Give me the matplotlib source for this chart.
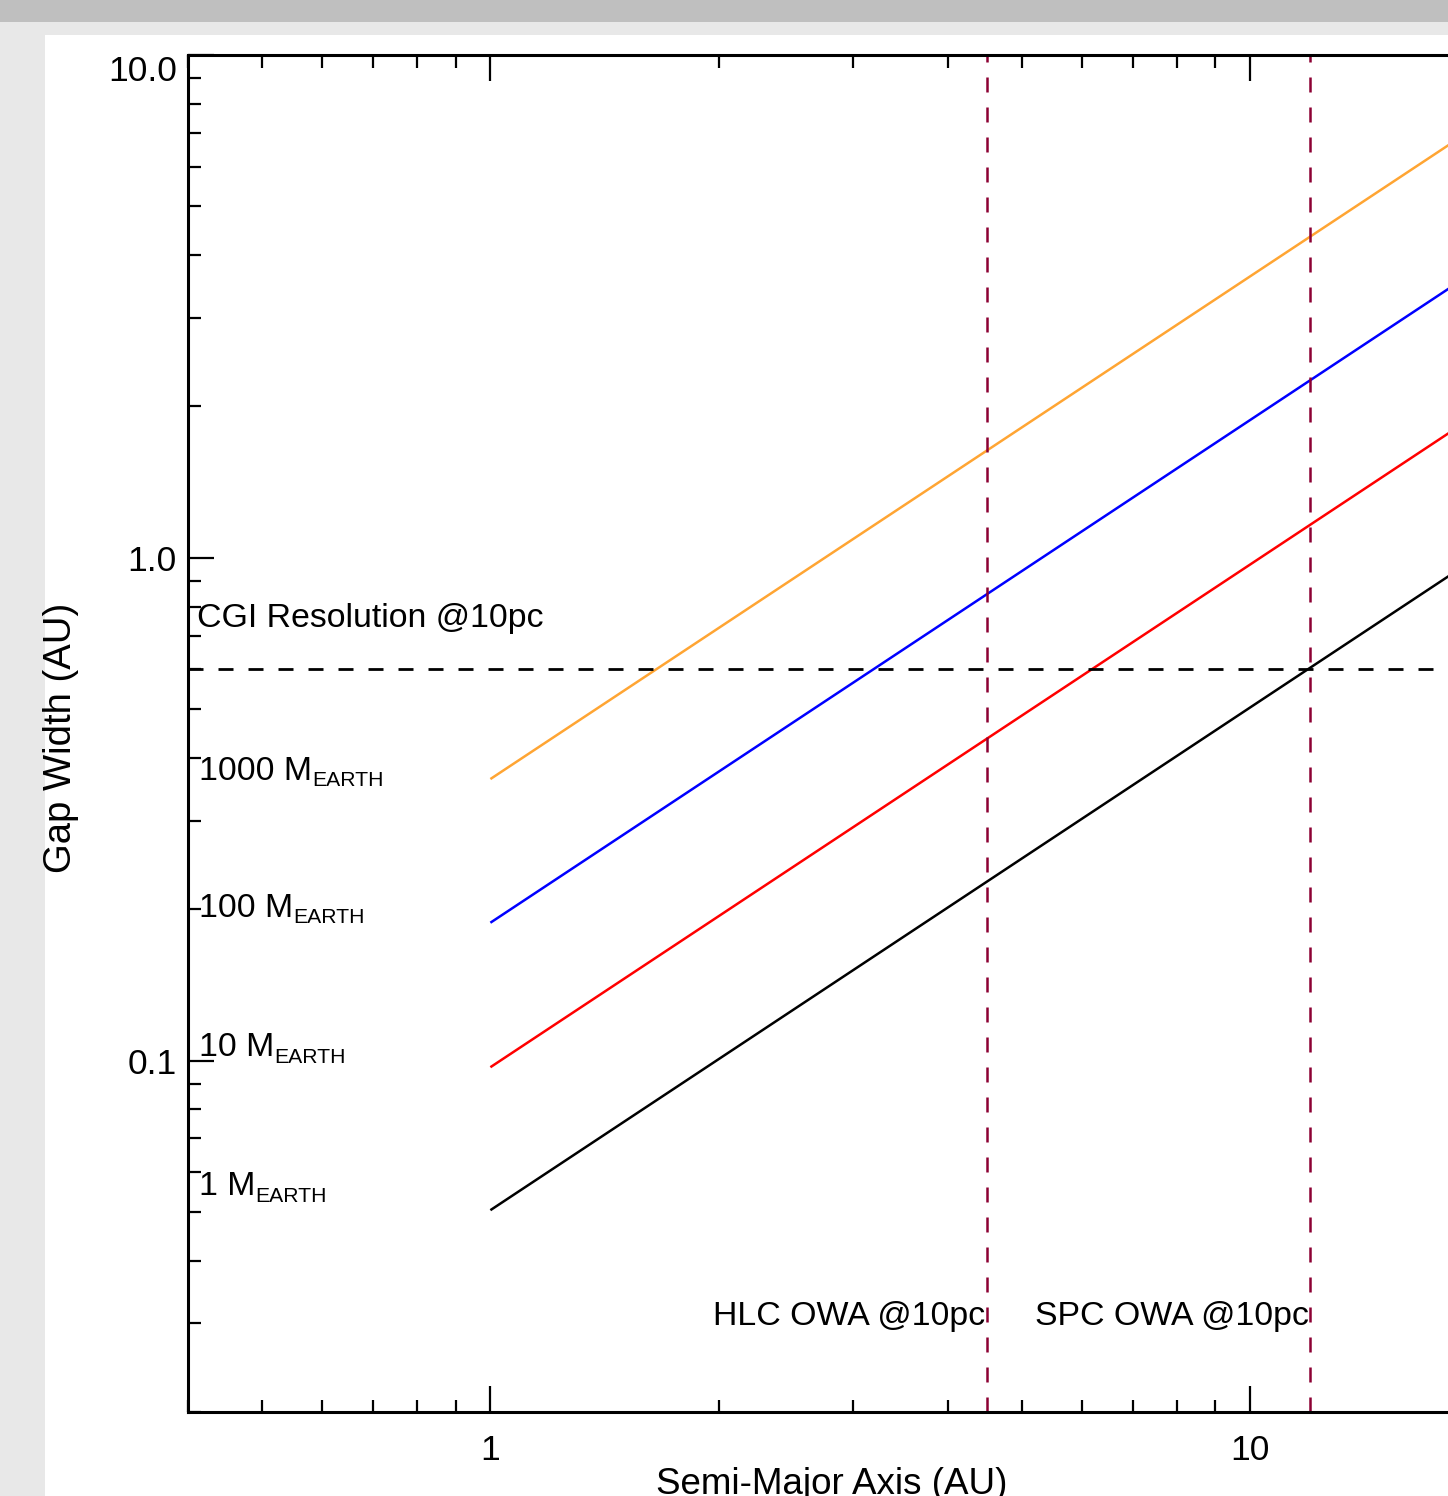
import matplotlib
matplotlib.use('Agg')
import matplotlib.pyplot as plt
from matplotlib.patches import Rectangle
from matplotlib.ticker import FixedLocator, FixedFormatter, LogLocator, NullFormatter

plt.rcParams['font.family'] = ['Liberation Sans', 'DejaVu Sans']

# data
semi_major = [1.0, 20.0]
gap_1me = [0.0504, 1.008]
gap_10me = [0.097, 1.94]
gap_100me = [0.188, 3.76]
gap_1000me = [0.363, 7.26]
line_colors = ['black', '#ff0000', '#0000ff', '#ffa533']

cgi_resolution = 0.6
hlc_owa = 4.5
spc_owa = 12.0

mass_labels = ['1 M', '10 M', '100 M', '1000 M']
mass_label_y = [0.054, 0.102, 0.193, 0.3615]

ytick_vals = [0.1, 1.0, 10.0]
ytick_labels = ['0.1', '1.0', '10.0']
xtick_vals = [1, 10]
xtick_labels = ['1', '10']

W, H = 1448, 1496
fig = plt.figure(figsize=(W / 100, H / 100), dpi=100, facecolor='#e8e8e8')
fig.patches.append(Rectangle((45 / W, 0), 1, 1 - 35 / H, transform=fig.transFigure,
                             facecolor='white', edgecolor='none', zorder=-10))
fig.patches.append(Rectangle((0, 1 - 22 / H), 1, 22 / H, transform=fig.transFigure,
                             facecolor='#bfbfbf', edgecolor='none', zorder=-10))

ax = fig.add_axes([188 / W, 84 / H, 1291 / W, 1357 / H])
ax.set_facecolor('none')
ax.set_xscale('log')
ax.set_yscale('log')
ax.set_xlim(0.4, 20)
ax.set_ylim(0.02, 10)

for g, c in zip([gap_1me, gap_10me, gap_100me, gap_1000me], line_colors):
    ax.plot(semi_major, g, color=c, lw=1.8, solid_capstyle='butt')

ax.axhline(cgi_resolution, color='black', lw=2.0, linestyle=(0, (5.4, 5.4)))
for xv in [hlc_owa, spc_owa]:
    ax.axvline(xv, color='#8c0033', lw=1.8, linestyle=(0, (6, 6)))

fs = 24.4
ax.text(0.411, 0.729, 'CGI Resolution @10pc', fontsize=fs, va='baseline', ha='left')
for lab, yv in zip(mass_labels, mass_label_y):
    t = ax.text(0.413, yv, lab, fontsize=fs, va='baseline', ha='left')
    ax.annotate('EARTH', xy=(1, 0), xycoords=t, xytext=(0.5, -2.5), textcoords='offset points',
                fontsize=15.2, va='bottom', ha='left')
ax.text(hlc_owa * 0.995, 0.0298, 'HLC OWA @10pc', fontsize=fs, va='baseline', ha='right')
ax.text(spc_owa * 0.995, 0.0298, 'SPC OWA @10pc', fontsize=fs, va='baseline', ha='right')

ax.xaxis.set_major_locator(FixedLocator(xtick_vals))
ax.xaxis.set_major_formatter(FixedFormatter(xtick_labels))
ax.xaxis.set_minor_locator(LogLocator(base=10, subs=range(2, 10)))
ax.xaxis.set_minor_formatter(NullFormatter())
ax.yaxis.set_major_locator(FixedLocator(ytick_vals))
ax.yaxis.set_major_formatter(FixedFormatter(ytick_labels))
ax.yaxis.set_minor_locator(LogLocator(base=10, subs=range(2, 10)))
ax.yaxis.set_minor_formatter(NullFormatter())

ax.tick_params(which='both', direction='in', top=True, right=True, width=1.6, labelsize=25.5)
ax.tick_params(which='major', length=19)
ax.tick_params(which='minor', length=9)
ax.tick_params(axis='x', which='major', pad=16)
ax.tick_params(axis='y', which='major', pad=8)
for s in ax.spines.values():
    s.set_linewidth(2.2)

# top label sits just below the top axis in the reference
fig.canvas.draw()
ax.get_yticklabels()[-1].set_verticalalignment('top')

fig.text(832 / W, 1 - 1494 / H, 'Semi-Major Axis (AU)', fontsize=26.5, ha='center', va='baseline')
fig.text(61 / W, 1 - 738 / H, 'Gap Width (AU)', fontsize=27.5, ha='center', va='center', rotation=90)

fig.savefig('out.png', dpi=100, facecolor=fig.get_facecolor())
